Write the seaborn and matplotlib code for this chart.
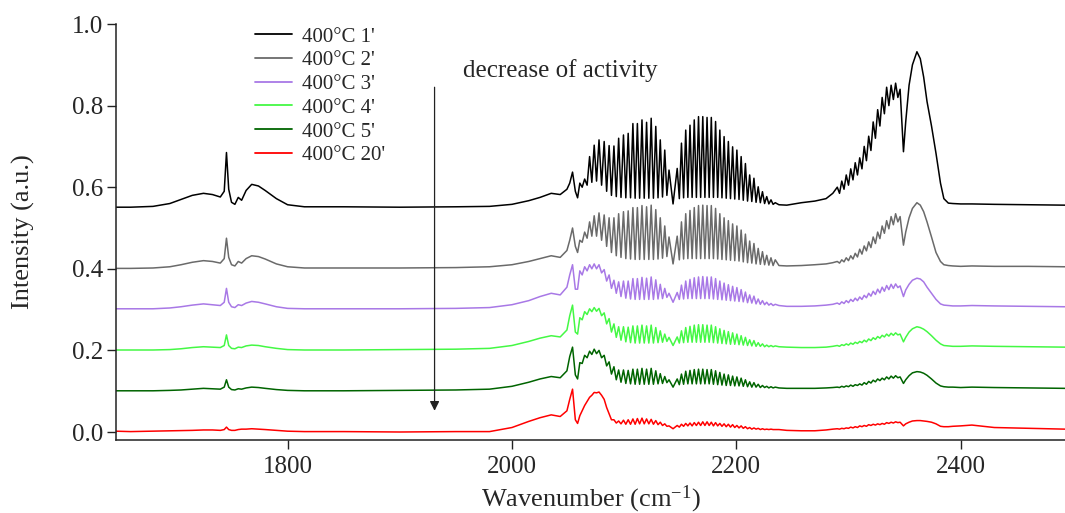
import numpy as np
import pandas as pd
import matplotlib
matplotlib.use("Agg")
import matplotlib.pyplot as plt
import seaborn as sns

# ---------------- data ----------------
series_labels = ["400°C 1'", "400°C 2'", "400°C 3'", "400°C 4'", "400°C 5'", "400°C 20'"]
series_colors = ["#000000", "#6a6a6a", "#a878e6", "#44f844", "#006400", "#ff0000"]

# broad features region (1647-2057 cm-1)
base_x = [1647, 1660, 1680, 1695, 1705, 1715, 1725, 1733, 1740, 1743.5,
          1745.5, 1747.5, 1750, 1753, 1756, 1759, 1763, 1768, 1774, 1780,
          1790, 1800, 1815, 1850, 1900, 1950, 1980, 2000, 2015, 2025,
          2035, 2043, 2049, 2051.5, 2054, 2056.5]
# CO gas rotational lines (P and R branch) and the minima between them
co_line_x = [2060.5, 2064.8, 2069.2, 2073.3, 2077.6, 2082.2, 2086.6, 2090.9, 2095.1, 2099.4,
             2103.6, 2107.8, 2111.8, 2115.9, 2120.0, 2124.1, 2128.2, 2132.2, 2136.2, 2140.0,
             2147.3, 2151.1, 2154.9, 2158.7, 2162.5, 2166.3, 2170.1, 2173.9, 2177.7, 2181.5,
             2185.3, 2189.1, 2192.9, 2196.7, 2200.5, 2204.3, 2208.1, 2211.9, 2215.7, 2219.5,
             2223.3, 2227.1, 2230.9, 2234.7]
co_trough_x = [2058.5,
               2062.6, 2067.0, 2071.2, 2075.4, 2079.9, 2084.4, 2088.7, 2093.0, 2097.2, 2101.5,
               2105.7, 2109.8, 2113.8, 2117.9, 2122.0, 2126.1, 2130.2, 2134.2, 2138.1,
               2143.6,
               2149.2, 2153.0, 2156.8, 2160.6, 2164.4, 2168.2, 2172.0, 2175.8, 2179.6, 2183.4,
               2187.2, 2191.0, 2194.8, 2198.6, 2202.4, 2206.2, 2210.0, 2213.8, 2217.6, 2221.4,
               2225.2, 2229.0, 2232.8,
               2238.0]
post_x = [2245, 2258, 2270, 2280, 2286]
# CO2 band
co2_x = [2290, 2292, 2294, 2296, 2298, 2300, 2302, 2304, 2306, 2308,
         2310, 2312, 2314, 2316, 2318, 2320, 2322, 2324, 2326, 2328,
         2330, 2332, 2334, 2336, 2338, 2340, 2342, 2344, 2346,
         2349, 2351, 2354, 2357, 2361, 2364, 2367, 2370, 2374, 2378,
         2382, 2385, 2389, 2393]
tail_x = [2400, 2410, 2430, 2460, 2493]

# ---- 400°C 1' (black)
s1_base = [0.551, 0.551, 0.553, 0.560, 0.570, 0.580, 0.585, 0.582, 0.576, 0.590,
           0.685, 0.595, 0.563, 0.558, 0.575, 0.568, 0.592, 0.607, 0.603, 0.592,
           0.572, 0.557, 0.552, 0.552, 0.551, 0.552, 0.553, 0.558, 0.567, 0.575,
           0.585, 0.582, 0.595, 0.610, 0.637, 0.590]
s1_peaks = [0.610, 0.620, 0.675, 0.703, 0.716, 0.712, 0.702, 0.701, 0.720, 0.728,
            0.732, 0.756, 0.756, 0.765, 0.759, 0.769, 0.749, 0.716, 0.691, 0.642,
            0.646, 0.708, 0.740, 0.752, 0.765, 0.773, 0.773, 0.771, 0.771, 0.761,
            0.740, 0.724, 0.712, 0.699, 0.691, 0.675, 0.658, 0.630, 0.622, 0.601,
            0.589, 0.577, 0.569, 0.562]
s1_troughs = [0.574,
              0.600, 0.605, 0.612, 0.615, 0.605, 0.590, 0.580, 0.577, 0.575, 0.574,
              0.574, 0.573, 0.573, 0.573, 0.573, 0.573, 0.574, 0.576, 0.580,
              0.559,
              0.572, 0.574, 0.575, 0.575, 0.575, 0.575, 0.575, 0.575, 0.575, 0.575,
              0.574, 0.573, 0.572, 0.571, 0.570, 0.568, 0.566, 0.565, 0.563, 0.562,
              0.560, 0.559, 0.558,
              0.557]
s1_post = [0.556, 0.562, 0.566, 0.572, 0.585]
s1_co2 = [0.600, 0.585, 0.615, 0.595, 0.630, 0.605, 0.645, 0.618, 0.660, 0.630,
          0.672, 0.645, 0.700, 0.665, 0.725, 0.690, 0.760, 0.720, 0.790, 0.750,
          0.820, 0.780, 0.845, 0.800, 0.850, 0.815, 0.855, 0.820, 0.840,
          0.687, 0.760, 0.850, 0.900, 0.932, 0.915, 0.870, 0.810, 0.750, 0.683,
          0.610, 0.572, 0.561, 0.560]
s1_tail = [0.559, 0.559, 0.558, 0.557, 0.556]

# ---- 400°C 2' (grey)
s2_base = [0.401, 0.401, 0.402, 0.405, 0.410, 0.416, 0.420, 0.418, 0.414, 0.425,
           0.475, 0.428, 0.410, 0.407, 0.418, 0.414, 0.425, 0.432, 0.430, 0.424,
           0.412, 0.405, 0.402, 0.402, 0.402, 0.403, 0.405, 0.410, 0.418, 0.425,
           0.432, 0.428, 0.445, 0.470, 0.500, 0.455]
s2_peaks = [0.470, 0.490, 0.515, 0.530, 0.537, 0.532, 0.525, 0.525, 0.535, 0.540,
            0.542, 0.550, 0.550, 0.555, 0.552, 0.556, 0.545, 0.525, 0.505, 0.478,
            0.480, 0.515, 0.535, 0.543, 0.550, 0.555, 0.556, 0.555, 0.555, 0.548,
            0.535, 0.525, 0.518, 0.510, 0.505, 0.495, 0.485, 0.468, 0.462, 0.450,
            0.442, 0.433, 0.427, 0.422]
s2_troughs = [0.440,
              0.465, 0.475, 0.480, 0.480, 0.470, 0.455, 0.440, 0.432, 0.428, 0.425,
              0.424, 0.423, 0.423, 0.423, 0.423, 0.423, 0.424, 0.426, 0.430,
              0.412,
              0.422, 0.424, 0.425, 0.425, 0.425, 0.425, 0.425, 0.425, 0.425, 0.424,
              0.423, 0.422, 0.421, 0.420, 0.419, 0.417, 0.415, 0.414, 0.412, 0.411,
              0.410, 0.409, 0.408,
              0.408]
s2_post = [0.407, 0.408, 0.410, 0.412, 0.415]
s2_co2 = [0.418, 0.414, 0.422, 0.417, 0.427, 0.420, 0.432, 0.424, 0.438, 0.429,
          0.448, 0.436, 0.456, 0.444, 0.466, 0.452, 0.478, 0.462, 0.490, 0.474,
          0.505, 0.487, 0.518, 0.498, 0.528, 0.508, 0.535, 0.515, 0.528,
          0.458, 0.490, 0.525, 0.548, 0.562, 0.556, 0.540, 0.515, 0.478, 0.440,
          0.418, 0.410, 0.408, 0.407]
s2_tail = [0.406, 0.407, 0.406, 0.406, 0.405]

# ---- 400°C 3' (purple)
s3_base = [0.302, 0.302, 0.302, 0.304, 0.307, 0.311, 0.314, 0.312, 0.310, 0.318,
           0.352, 0.318, 0.307, 0.305, 0.312, 0.310, 0.316, 0.320, 0.318, 0.314,
           0.307, 0.303, 0.302, 0.302, 0.302, 0.303, 0.305, 0.312, 0.322, 0.332,
           0.340, 0.336, 0.355, 0.385, 0.410, 0.350]
s3_peaks = [0.395, 0.405, 0.410, 0.412, 0.410, 0.398, 0.385, 0.372, 0.368, 0.370,
            0.370, 0.376, 0.376, 0.379, 0.377, 0.380, 0.373, 0.362, 0.352, 0.340,
            0.342, 0.360, 0.370, 0.374, 0.378, 0.380, 0.381, 0.380, 0.380, 0.376,
            0.370, 0.365, 0.361, 0.357, 0.354, 0.349, 0.343, 0.336, 0.333, 0.326,
            0.322, 0.318, 0.315, 0.313]
s3_troughs = [0.350,
              0.385, 0.395, 0.400, 0.400, 0.390, 0.370, 0.352, 0.340, 0.332, 0.328,
              0.326, 0.325, 0.325, 0.325, 0.325, 0.325, 0.326, 0.327, 0.330,
              0.318,
              0.325, 0.326, 0.327, 0.327, 0.327, 0.327, 0.327, 0.327, 0.326, 0.325,
              0.324, 0.323, 0.322, 0.321, 0.320, 0.319, 0.317, 0.316, 0.314, 0.313,
              0.312, 0.311, 0.310,
              0.310]
s3_post = [0.308, 0.308, 0.309, 0.311, 0.313]
s3_co2 = [0.316, 0.313, 0.319, 0.315, 0.322, 0.317, 0.325, 0.320, 0.328, 0.322,
          0.331, 0.325, 0.335, 0.329, 0.340, 0.333, 0.345, 0.337, 0.350, 0.341,
          0.355, 0.345, 0.359, 0.349, 0.362, 0.352, 0.363, 0.354, 0.358,
          0.332, 0.348, 0.362, 0.372, 0.377, 0.375, 0.368, 0.355, 0.340, 0.325,
          0.314, 0.311, 0.310, 0.309]
s3_tail = [0.309, 0.310, 0.309, 0.308, 0.307]

# ---- 400°C 4' (light green)
s4_base = [0.201, 0.201, 0.201, 0.202, 0.204, 0.207, 0.209, 0.208, 0.207, 0.212,
           0.238, 0.212, 0.205, 0.204, 0.208, 0.207, 0.211, 0.213, 0.212, 0.209,
           0.205, 0.202, 0.201, 0.201, 0.202, 0.203, 0.205, 0.212, 0.222, 0.230,
           0.236, 0.233, 0.250, 0.285, 0.311, 0.245]
s4_peaks = [0.280, 0.295, 0.302, 0.305, 0.303, 0.292, 0.278, 0.265, 0.258, 0.258,
            0.257, 0.260, 0.260, 0.262, 0.260, 0.262, 0.256, 0.248, 0.240, 0.232,
            0.233, 0.248, 0.256, 0.259, 0.262, 0.263, 0.263, 0.262, 0.262, 0.258,
            0.253, 0.249, 0.246, 0.243, 0.240, 0.236, 0.232, 0.226, 0.224, 0.219,
            0.216, 0.213, 0.212, 0.211]
s4_troughs = [0.240,
              0.275, 0.288, 0.295, 0.296, 0.285, 0.265, 0.245, 0.232, 0.225, 0.221,
              0.219, 0.218, 0.218, 0.218, 0.218, 0.218, 0.219, 0.220, 0.222,
              0.212,
              0.218, 0.219, 0.220, 0.220, 0.220, 0.220, 0.220, 0.220, 0.219, 0.218,
              0.217, 0.216, 0.215, 0.215, 0.214, 0.213, 0.212, 0.211, 0.210, 0.210,
              0.209, 0.209, 0.209,
              0.209]
s4_post = [0.208, 0.207, 0.207, 0.208, 0.210]
s4_co2 = [0.212, 0.210, 0.214, 0.212, 0.216, 0.213, 0.218, 0.215, 0.220, 0.217,
          0.222, 0.219, 0.225, 0.221, 0.228, 0.224, 0.231, 0.227, 0.234, 0.230,
          0.237, 0.233, 0.240, 0.235, 0.242, 0.237, 0.243, 0.238, 0.240,
          0.221, 0.232, 0.245, 0.253, 0.258, 0.256, 0.252, 0.246, 0.236, 0.225,
          0.216, 0.212, 0.211, 0.210]
s4_tail = [0.210, 0.211, 0.210, 0.209, 0.208]

# ---- 400°C 5' (dark green)
s5_base = [0.101, 0.101, 0.101, 0.102, 0.103, 0.105, 0.107, 0.106, 0.105, 0.110,
           0.128, 0.110, 0.104, 0.103, 0.106, 0.105, 0.108, 0.110, 0.109, 0.107,
           0.104, 0.102, 0.101, 0.101, 0.102, 0.103, 0.105, 0.112, 0.122, 0.130,
           0.136, 0.133, 0.150, 0.185, 0.208, 0.140]
s5_peaks = [0.170, 0.188, 0.198, 0.203, 0.200, 0.188, 0.172, 0.160, 0.152, 0.152,
            0.151, 0.154, 0.154, 0.156, 0.154, 0.156, 0.150, 0.143, 0.136, 0.128,
            0.130, 0.142, 0.149, 0.151, 0.153, 0.154, 0.154, 0.153, 0.153, 0.150,
            0.146, 0.142, 0.140, 0.137, 0.135, 0.132, 0.128, 0.123, 0.121, 0.117,
            0.114, 0.112, 0.111, 0.110]
s5_troughs = [0.130,
              0.168, 0.182, 0.190, 0.192, 0.182, 0.162, 0.142, 0.128, 0.122, 0.119,
              0.118, 0.117, 0.117, 0.117, 0.117, 0.117, 0.118, 0.119, 0.121,
              0.110,
              0.116, 0.117, 0.118, 0.118, 0.118, 0.118, 0.118, 0.118, 0.117, 0.116,
              0.115, 0.114, 0.114, 0.113, 0.113, 0.112, 0.111, 0.110, 0.110, 0.109,
              0.109, 0.108, 0.108,
              0.108]
s5_post = [0.107, 0.107, 0.107, 0.108, 0.109]
s5_co2 = [0.110, 0.109, 0.112, 0.110, 0.113, 0.111, 0.115, 0.112, 0.116, 0.114,
          0.118, 0.115, 0.121, 0.117, 0.124, 0.120, 0.127, 0.123, 0.130, 0.126,
          0.132, 0.128, 0.135, 0.130, 0.137, 0.132, 0.138, 0.133, 0.135,
          0.119, 0.128, 0.138, 0.145, 0.148, 0.147, 0.144, 0.139, 0.130, 0.120,
          0.113, 0.111, 0.110, 0.110]
s5_tail = [0.109, 0.110, 0.109, 0.108, 0.107]

# ---- 400°C 20' (red)
s6_base = [0.002, 0.001, 0.002, 0.003, 0.003, 0.004, 0.005, 0.005, 0.004, 0.006,
           0.012, 0.006, 0.004, 0.004, 0.006, 0.007, 0.007, 0.008, 0.007, 0.006,
           0.004, 0.002, 0.001, 0.001, 0.000, 0.001, 0.001, 0.011, 0.026, 0.035,
           0.042, 0.038, 0.052, 0.080, 0.105, 0.030]
s6_peaks = [0.040, 0.065, 0.085, 0.097, 0.098, 0.080, 0.045, 0.030, 0.027, 0.029,
            0.030, 0.032, 0.033, 0.034, 0.032, 0.031, 0.028, 0.024, 0.020, 0.015,
            0.016, 0.019, 0.021, 0.022, 0.023, 0.024, 0.025, 0.025, 0.024, 0.023,
            0.021, 0.020, 0.019, 0.018, 0.016, 0.015, 0.013, 0.011, 0.010, 0.009,
            0.008, 0.007, 0.007, 0.006]
s6_troughs = [0.021,
              0.052, 0.075, 0.090, 0.096, 0.090, 0.060, 0.030, 0.022, 0.020, 0.019,
              0.019, 0.019, 0.020, 0.020, 0.020, 0.019, 0.018, 0.016, 0.014,
              0.008,
              0.012, 0.014, 0.015, 0.015, 0.016, 0.016, 0.016, 0.016, 0.015, 0.015,
              0.014, 0.013, 0.012, 0.011, 0.010, 0.009, 0.008, 0.007, 0.007, 0.006,
              0.006, 0.006, 0.006,
              0.006]
s6_post = [0.004, 0.003, 0.003, 0.005, 0.007]
s6_co2 = [0.008, 0.007, 0.009, 0.008, 0.010, 0.009, 0.012, 0.010, 0.013, 0.011,
          0.015, 0.013, 0.016, 0.014, 0.018, 0.016, 0.019, 0.017, 0.020, 0.018,
          0.021, 0.019, 0.023, 0.021, 0.024, 0.022, 0.025, 0.023, 0.024,
          0.015, 0.020, 0.024, 0.027, 0.028, 0.028, 0.027, 0.026, 0.024, 0.020,
          0.014, 0.013, 0.013, 0.014]
s6_tail = [0.015, 0.017, 0.011, 0.009, 0.007]

series_parts = [
    [s1_base, s1_peaks, s1_troughs, s1_post, s1_co2, s1_tail],
    [s2_base, s2_peaks, s2_troughs, s2_post, s2_co2, s2_tail],
    [s3_base, s3_peaks, s3_troughs, s3_post, s3_co2, s3_tail],
    [s4_base, s4_peaks, s4_troughs, s4_post, s4_co2, s4_tail],
    [s5_base, s5_peaks, s5_troughs, s5_post, s5_co2, s5_tail],
    [s6_base, s6_peaks, s6_troughs, s6_post, s6_co2, s6_tail],
]

# ---------------- build table ----------------
x_all = np.concatenate([base_x, co_line_x, co_trough_x, post_x, co2_x, tail_x]).astype(float)
frames = []
for label, parts in zip(series_labels, series_parts):
    y = np.concatenate([np.asarray(p, float) for p in parts])
    frames.append(pd.DataFrame({"wavenumber": x_all, "intensity": y, "series": label}))
df = pd.concat(frames, ignore_index=True)

# ---------------- style ----------------
sns.set_style("ticks")
plt.rcParams["font.family"] = ["Liberation Serif", "DejaVu Serif"]
plt.rcParams["mathtext.fontset"] = "custom"
plt.rcParams["mathtext.rm"] = "Liberation Serif"
plt.rcParams["mathtext.it"] = "Liberation Serif:italic"
plt.rcParams["mathtext.bf"] = "Liberation Serif:bold"

fig = plt.figure(figsize=(10.65, 5.13), dpi=100)
ax = fig.add_axes([0.1089, 0.1423, 0.8911, 0.8109])

sns.lineplot(data=df, x="wavenumber", y="intensity", hue="series",
             hue_order=series_labels, palette=series_colors,
             estimator=None, sort=True, linewidth=1.1, ax=ax, legend=True)

ax.set_xlim(1647, 2493)
ax.set_ylim(-0.0196, 1.0)
ax.set_xticks([1800, 2000, 2200, 2400])
ax.set_yticks([0.0, 0.2, 0.4, 0.6, 0.8, 1.0])
ax.set_yticklabels(["0.0", "0.2", "0.4", "0.6", "0.8", "1.0"])

for side in ["top", "right"]:
    ax.spines[side].set_visible(False)
for side in ["left", "bottom"]:
    ax.spines[side].set_linewidth(1.1)
    ax.spines[side].set_color("#222222")

ax.tick_params(axis="both", direction="out", length=6.5, width=1.0,
               color="#222222", labelsize=18, pad=3)
ax.tick_params(axis="x", pad=5)

ax.set_xlabel("Wavenumber (cm$^{\\mathregular{-1}}$)", fontsize=19)
ax.set_ylabel("Intensity (a.u.)", fontsize=19)
ax.xaxis.set_label_coords(0.5, -0.105)
ax.yaxis.set_label_coords(-0.085, 0.5)

handles, labels = ax.get_legend_handles_labels()
for h in handles:
    h.set_linewidth(1.3)
ax.legend(handles, labels, loc="upper left", bbox_to_anchor=(0.147, 0.993),
          frameon=False, fontsize=15, handlelength=1.75, handletextpad=0.5,
          labelspacing=0.2, borderaxespad=0, borderpad=0)

ax.annotate("", xy=(1931, 0.052), xytext=(1931, 0.845),
            arrowprops=dict(arrowstyle="-|>", color="#222222", lw=0.9,
                            mutation_scale=14, shrinkA=0, shrinkB=0))
ax.text(1956, 0.887, "decrease of activity", fontsize=18, va="center", ha="left")

fig.savefig("out.png", dpi=100)
